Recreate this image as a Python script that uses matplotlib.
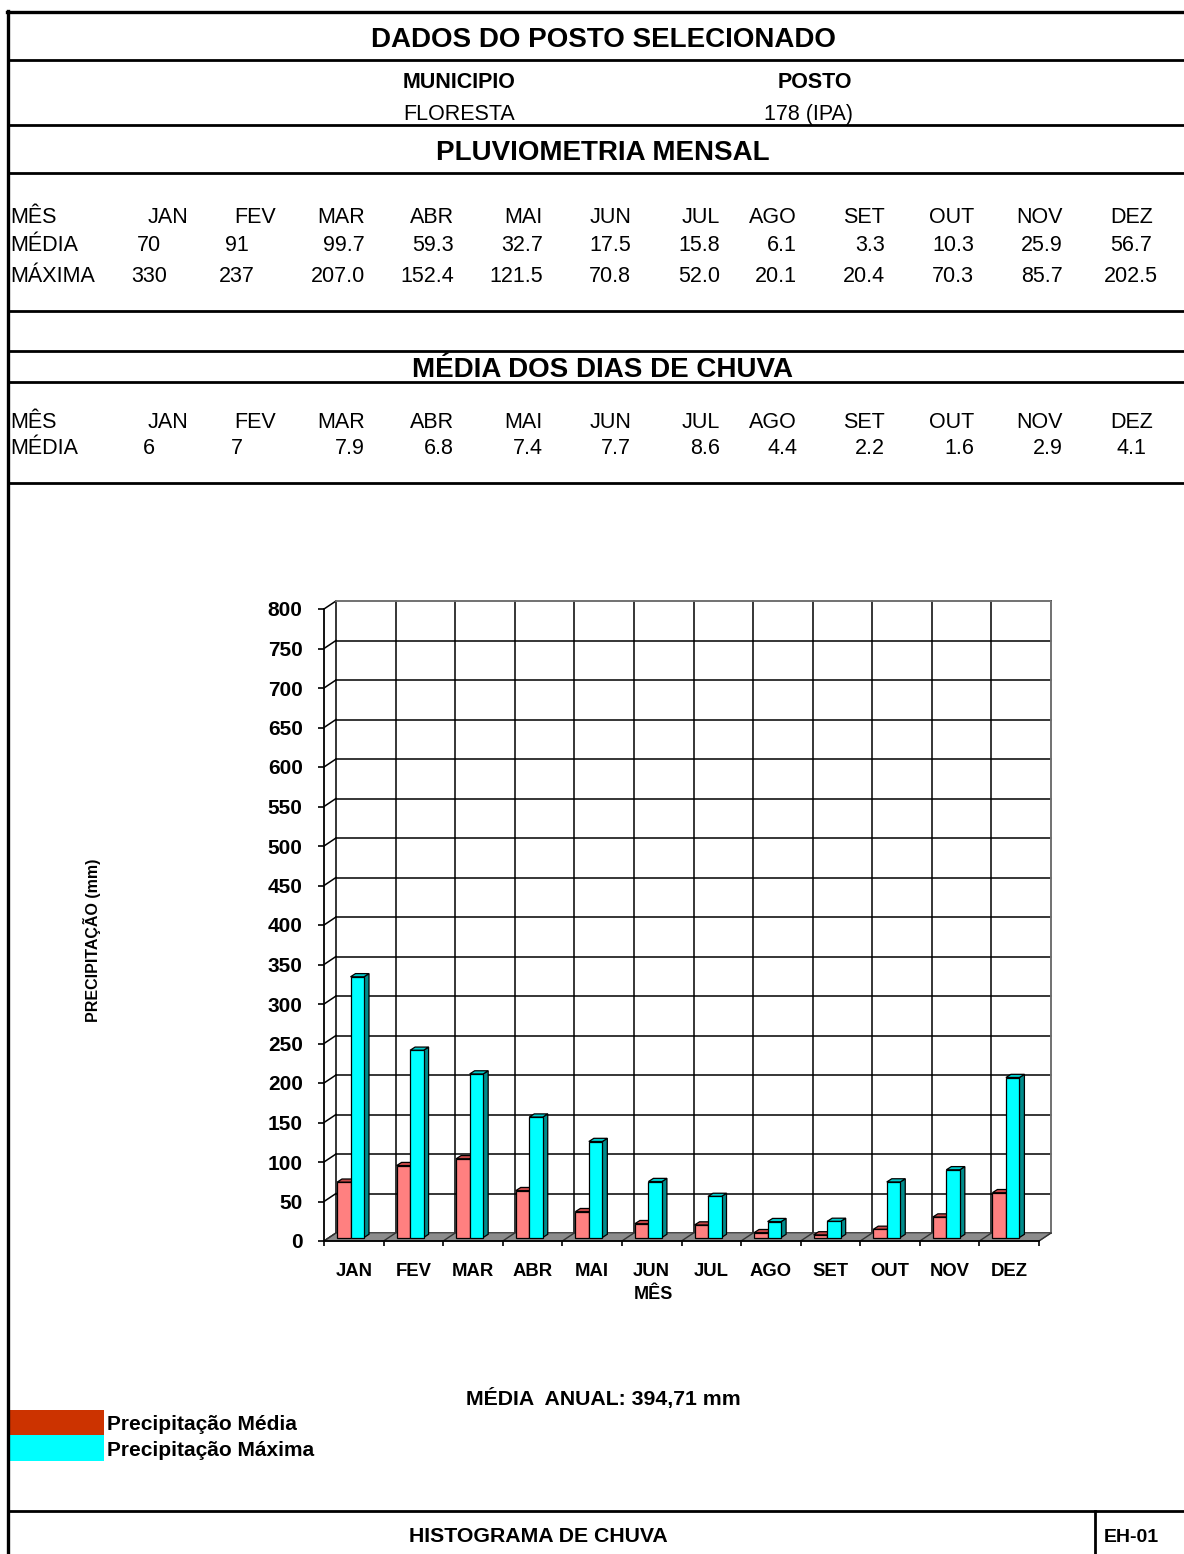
"""
Histograma de chuva - posto 178 (IPA), Floresta
"""

import matplotlib
matplotlib.use("Agg")
import matplotlib.pyplot as plt
from matplotlib.patches import Polygon, Rectangle

plt.rcParams["font.family"] = ["Liberation Sans", "DejaVu Sans"]

W, H = 1184, 1554

meses = ["JAN", "FEV", "MAR", "ABR", "MAI", "JUN", "JUL", "AGO", "SET", "OUT", "NOV", "DEZ"]
media = [70, 91, 99.7, 59.3, 32.7, 17.5, 15.8, 6.1, 3.3, 10.3, 25.9, 56.7]
maxima = [330, 237, 207.0, 152.4, 121.5, 70.8, 52.0, 20.1, 20.4, 70.3, 85.7, 202.5]
dias = [6, 7, 7.9, 6.8, 7.4, 7.7, 8.6, 4.4, 2.2, 1.6, 2.9, 4.1]
yticks = list(range(0, 801, 50))

municipio = "FLORESTA"
posto = "178 (IPA)"
media_anual = "394,71"


def fmt(i, v):
    # first two columns of the sheet are written without decimals
    return f"{v:.0f}" if i < 2 else f"{v:.1f}"


fig = plt.figure(figsize=(W / 100, H / 100), dpi=100)

# ---- page / table frame (pixel coordinates) ----
page = fig.add_axes([0, 0, 1, 1])
page.set_xlim(0, W)
page.set_ylim(H, 0)
page.axis("off")

page.plot([8, 8], [11, H], color="black", lw=2.4)
page.plot([7, W], [12, 12], color="black", lw=2.4)
for yl in [60, 125, 173, 311, 351, 382, 483, 1511]:
    page.plot([8, W], [yl, yl], color="black", lw=2.0)
page.plot([1095, 1095], [1511, H], color="black", lw=2.0)

big = dict(fontsize=20, fontweight="bold", ha="center", va="baseline")
sub = dict(fontsize=15.5, ha="center", va="baseline")
page.text(603, 47, "DADOS DO POSTO SELECIONADO", **big)
page.text(459, 88, "MUNICIPIO", fontweight="bold", **sub)
page.text(815, 88, "POSTO", fontweight="bold", **sub)
page.text(459, 120, municipio, **sub)
page.text(808, 120, posto, **sub)
page.text(603, 160, "PLUVIOMETRIA MENSAL", **big)
page.text(603, 377, "MÉDIA DOS DIAS DE CHUVA", **big)

hdr_x = [188, 276, 365, 454, 543, 631, 720, 797, 885, 974, 1063, 1153]
val_x = [149, 237, 365, 454, 543, 631, 720, 797, 885, 974, 1063, 1131]
val_ha = ["center", "center"] + ["right"] * 9 + ["center"]
tf = dict(fontsize=15.5, va="baseline")

page.text(10, 223, "MÊS", **tf)
page.text(10, 251, "MÉDIA", **tf)
page.text(10, 282, "MÁXIMA", **tf)
page.text(10, 428, "MÊS", **tf)
page.text(10, 454, "MÉDIA", **tf)
for i, m in enumerate(meses):
    page.text(hdr_x[i], 223, m, ha="right", **tf)
    page.text(val_x[i], 251, fmt(i, media[i]), ha=val_ha[i], **tf)
    page.text(val_x[i], 282, fmt(i, maxima[i]), ha=val_ha[i], **tf)
    page.text(hdr_x[i], 428, m, ha="right", **tf)
    page.text(val_x[i], 454, fmt(i, dias[i]), ha=val_ha[i], **tf)

# legend + footer
page.add_patch(Rectangle((8, 1410), 96, 25, facecolor="#CC3300", edgecolor="none"))
page.add_patch(Rectangle((8, 1435), 96, 26, facecolor="#00FFFF", edgecolor="none"))
page.text(107, 1430, "Precipitação Média", fontsize=15, fontweight="bold", va="baseline")
page.text(107, 1456, "Precipitação Máxima", fontsize=15, fontweight="bold", va="baseline")
page.text(603, 1405, "MÉDIA  ANUAL: " + media_anual + " mm", fontsize=15.3,
          fontweight="bold", ha="center", va="baseline")
page.text(538, 1542, "HISTOGRAMA DE CHUVA", fontsize=15.3, fontweight="bold",
          ha="center", va="baseline")
page.text(1131, 1542, "EH-01", fontsize=14, fontweight="bold", ha="center", va="baseline")
page.text(92, 940, "PRECIPITAÇÃO (mm)", fontsize=11.5, fontweight="bold",
          rotation=90, ha="center", va="center")
page.text(653, 1299, "MÊS", fontsize=13, fontweight="bold", ha="center", va="baseline")

# ---- chart axes: front plane of the pseudo 3D column chart ----
x0, x1, y0, y1 = 324, 1039, 1241, 609
ax = fig.add_axes([x0 / W, (H - y0) / H, (x1 - x0) / W, (y0 - y1) / H])
ax.set_xlim(0, 12)
ax.set_ylim(0, 800)
ax.patch.set_visible(False)

sx = 12 / (x1 - x0)       # data units per pixel
sy = 800 / (y0 - y1)
dx, dy = 12 * sx, 8 * sy  # wall depth
bx, by = 5 * sx, 3.5 * sy  # bar front position inside the floor
ex, ey = 5 * sx, 3.2 * sy  # bar depth

# back wall grid
for v in yticks:
    ax.plot([dx, 12 + dx], [v + dy, v + dy], color="black", lw=1.1, clip_on=False, zorder=1)
    ax.plot([0, dx], [v, v + dy], color="black", lw=1.1, clip_on=False, zorder=1)
for i in range(13):
    ax.plot([i + dx, i + dx], [dy, 800 + dy], color="black", lw=1.1, clip_on=False, zorder=1)
ax.plot([dx, 12 + dx, 12 + dx], [800 + dy, 800 + dy, dy], color="#808080", lw=1.2,
        clip_on=False, zorder=1.1)

# floor
ax.add_patch(Polygon([(0, 0), (12, 0), (12 + dx, dy), (dx, dy)], closed=True,
                     facecolor="#8C8C8C", edgecolor="#555555", lw=0.8, clip_on=False, zorder=2))
for i in range(13):
    ax.plot([i, i + dx], [0, dy], color="#333333", lw=1.0, clip_on=False, zorder=2.1)

# bars
bw = 13.5 * sx
off_pink = 8 * sx
xs = list(range(12))


def column(xl, v, top, side, z):
    xr = xl + bw
    b = by
    ax.add_patch(Polygon([(xr, b), (xr + ex, b + ey), (xr + ex, b + v + ey), (xr, b + v)],
                         closed=True, facecolor=side, edgecolor="black", lw=0.9,
                         clip_on=False, zorder=z))
    ax.add_patch(Polygon([(xl, b + v), (xr, b + v), (xr + ex, b + v + ey), (xl + ex, b + v + ey)],
                         closed=True, facecolor=top, edgecolor="black", lw=0.9,
                         clip_on=False, zorder=z))


for i in xs:
    xl = i + bx + off_pink
    column(xl, media[i], "#C84848", "#A04040", 3)
    column(xl + bw, maxima[i], "#00CCCC", "#008C8C", 3.2)

ax.bar([i + bx + off_pink for i in xs], media, width=bw, bottom=by, align="edge",
       color="#FF8080", edgecolor="black", lw=0.9, clip_on=False, zorder=3.1)
ax.bar([i + bx + off_pink + bw for i in xs], maxima, width=bw, bottom=by, align="edge",
       color="#00FFFF", edgecolor="black", lw=0.9, clip_on=False, zorder=3.3)

# axes / ticks
for s in ["top", "right"]:
    ax.spines[s].set_visible(False)
ax.spines["left"].set_linewidth(1.3)
ax.spines["bottom"].set_linewidth(1.3)
ax.spines["left"].set_zorder(4)
ax.spines["bottom"].set_zorder(4)
ax.set_yticks(yticks)
ax.set_yticklabels([str(v) for v in yticks], fontsize=15, fontweight="bold")
ax.tick_params(axis="y", direction="out", length=4.3, width=1.2, pad=11)
ax.set_xticks([i + 0.5 for i in xs])
ax.set_xticklabels(meses, fontsize=13.3, fontweight="bold")
ax.set_xticks(range(13), minor=True)
ax.tick_params(axis="x", which="major", length=0, pad=16)
ax.tick_params(axis="x", which="minor", direction="out", length=3.6, width=1.2)

fig.savefig("out.png", dpi=100)
